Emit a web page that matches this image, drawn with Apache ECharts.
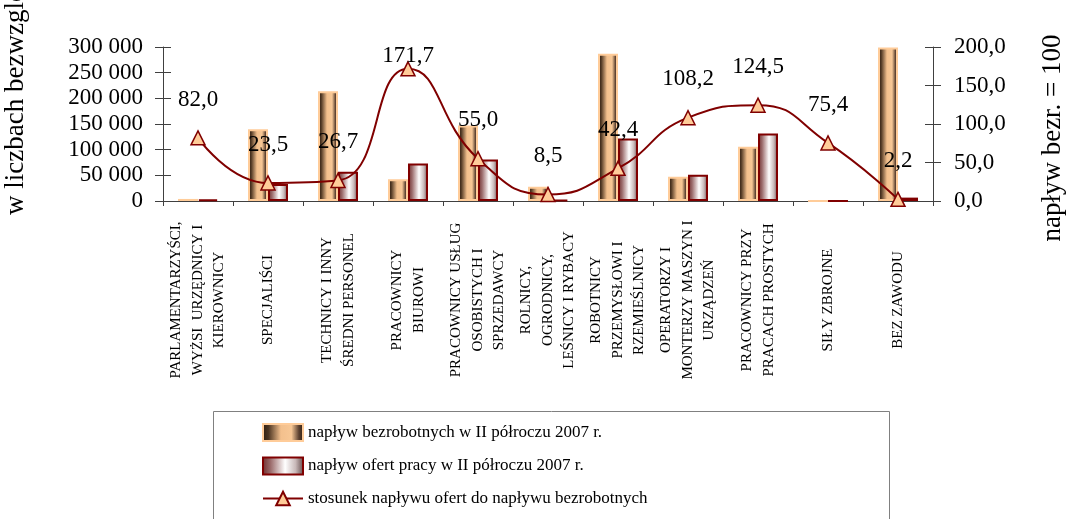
<!DOCTYPE html>
<html>
<head>
<meta charset="utf-8">
<script src="https://cdn.jsdelivr.net/npm/echarts@6/dist/echarts.min.js"></script>
<style>
  html, body { margin: 0; padding: 0; background: #fff; }
  #chart { width: 1067px; height: 519px; }
</style>
</head>
<body>
<div id="chart"></div>
<script>
const categories = [
  'PARLAMENTARZYŚCI,\nWYŻSI  URZĘDNICY I\nKIEROWNICY',
  'SPECJALIŚCI',
  'TECHNICY I INNY\nŚREDNI PERSONEL',
  'PRACOWNICY\nBIUROWI',
  'PRACOWNICY USŁUG\nOSOBISTYCH I\nSPRZEDAWCY',
  'ROLNICY,\nOGRODNICY,\nLEŚNICY I RYBACY',
  'ROBOTNICY\nPRZEMYSŁOWI I\nRZEMIEŚLNICY',
  'OPERATORZY I\nMONTERZY MASZYN I\nURZĄDZEŃ',
  'PRACOWNICY PRZY\nPRACACH PROSTYCH',
  'SIŁY ZBROJNE',
  'BEZ ZAWODU'
]
const unemployed = [4000, 140000, 214000, 42500, 147000, 28000, 287000, 47000, 105800, 150, 299000]
const offers = [3300, 32900, 57100, 73000, 80900, 2400, 121700, 50900, 131700, 113, 6600]
const ratio = [82.0, 23.5, 26.7, 171.7, 55.0, 8.5, 42.4, 108.2, 124.5, 75.4, 2.2]
const leftTicks = { min: 0, max: 300000, interval: 50000 }
const rightTicks = { min: 0, max: 200, interval: 50 }

const seriesNames = [
  'napływ bezrobotnych w II półroczu 2007 r.',
  'napływ ofert pracy w II półroczu 2007 r.',
  'stosunek napływu ofert do napływu bezrobotnych'
]

const FONT = '"Liberation Serif", "Times New Roman", serif'
const AXIS_COLOR = '#404040'
const LINE_COLOR = '#800000'

const chart = echarts.init(document.getElementById('chart'))

const fmtThousands = v => String(v).replace(/\B(?=(\d{3})+(?!\d))/g, ' ')
const fmtComma = v => Number(v).toFixed(1).replace('.', ',')

function hGrad(stops) {
  return new echarts.graphic.LinearGradient(0, 0, 1, 0, stops.map(([offset, color]) => ({ offset, color })))
}

const unemployedFill = hGrad([[0, '#2c1d10'], [0.15, '#4a3320'], [0.45, '#f3c08d'], [0.7, '#f7c795'], [0.88, '#5a4030'], [1, '#2a1c10']])
const offersFill = hGrad([[0, '#6e2c2c'], [0.2, '#9a6a6a'], [0.55, '#ffffff'], [0.8, '#c8b8b8'], [1, '#5e4646']])

// second pair of y axes only draws inner halves of the ticks, so they cross the axis line
function yAxisBase(side, ticks, inner) {
  return {
    type: 'value',
    position: side,
    ...ticks,
    splitLine: { show: false },
    axisLine: { show: !inner, lineStyle: { color: AXIS_COLOR, width: 1 } },
    axisTick: { show: true, inside: inner, length: 8, lineStyle: { color: AXIS_COLOR } },
    axisLabel: { show: false }
  }
}

chart.setOption({
  backgroundColor: '#fff',
  animation: false,
  textStyle: { fontFamily: FONT },
  grid: { left: 163, right: 134, top: 47, bottom: 318, containLabel: false },
  legend: {
    orient: 'vertical',
    left: 213,
    top: 411,
    padding: [12, 10, 4, 49],
    itemWidth: 40,
    itemHeight: 17,
    itemGap: 14.5,
    textStyle: { fontFamily: FONT, fontSize: 17, color: '#000' },
    data: [
      { name: seriesNames[0], icon: 'rect' },
      { name: seriesNames[1], icon: 'rect' },
      { name: seriesNames[2] }
    ]
  },
  xAxis: {
    type: 'category',
    data: categories,
    axisLine: { lineStyle: { color: AXIS_COLOR, width: 1 } },
    axisTick: { show: true, length: 5, lineStyle: { color: AXIS_COLOR } },
    axisLabel: {
      interval: 0,
      rotate: 90,
      align: 'center',
      verticalAlign: 'middle',
      margin: 99,
      fontFamily: FONT,
      fontSize: 15,
      lineHeight: 21.5,
      color: '#000'
    }
  },
  yAxis: [
    {
      ...yAxisBase('left', leftTicks, false),
      axisLabel: { show: true, margin: 20, fontFamily: FONT, fontSize: 23, color: '#000', formatter: fmtThousands }
    },
    {
      ...yAxisBase('right', rightTicks, false),
      axisLabel: { show: true, margin: 21, fontFamily: FONT, fontSize: 23, color: '#000', formatter: fmtComma }
    },
    yAxisBase('left', leftTicks, true),
    yAxisBase('right', rightTicks, true)
  ],
  graphic: [
    {
      type: 'rect',
      shape: { x: 213.5, y: 411.5, width: 676, height: 130 },
      style: { fill: 'none', stroke: '#808080', lineWidth: 1 },
      silent: true
    },
    {
      type: 'text',
      x: 16, y: 215,
      rotation: Math.PI / 2,
      style: { text: 'w liczbach bezwzględnych', font: '27px ' + FONT, fill: '#000', align: 'left', verticalAlign: 'middle' }
    },
    {
      type: 'text',
      x: 1053, y: 138,
      rotation: Math.PI / 2,
      style: { text: 'napływ bezr. = 100', font: '27px ' + FONT, fill: '#000', align: 'center', verticalAlign: 'middle' }
    }
  ],
  series: [
    {
      name: seriesNames[0],
      type: 'bar',
      yAxisIndex: 0,
      barWidth: 20,
      barGap: '0%',
      data: unemployed,
      itemStyle: { color: unemployedFill, borderColor: '#ffcc99', borderWidth: 2 }
    },
    {
      name: seriesNames[1],
      type: 'bar',
      yAxisIndex: 0,
      barWidth: 20,
      barGap: '0%',
      data: offers,
      itemStyle: { color: offersFill, borderColor: LINE_COLOR, borderWidth: 2 }
    },
    {
      name: seriesNames[2],
      type: 'line',
      yAxisIndex: 1,
      smooth: 0.5,
      symbol: 'triangle',
      symbolSize: 14,
      z: 5,
      lineStyle: { color: LINE_COLOR, width: 2 },
      itemStyle: { color: '#ffcc99', borderColor: LINE_COLOR, borderWidth: 1.5 },
      label: {
        show: true,
        position: 'top',
        distance: 19,
        fontFamily: FONT,
        fontSize: 23,
        color: '#000',
        formatter: p => fmtComma(p.value)
      },
      // peak label sits almost on its marker in the original
      data: ratio.map((v, i) => i === 3 ? { value: v, label: { offset: [0, 25] } } : v)
    }
  ]
})
</script>
</body>
</html>
